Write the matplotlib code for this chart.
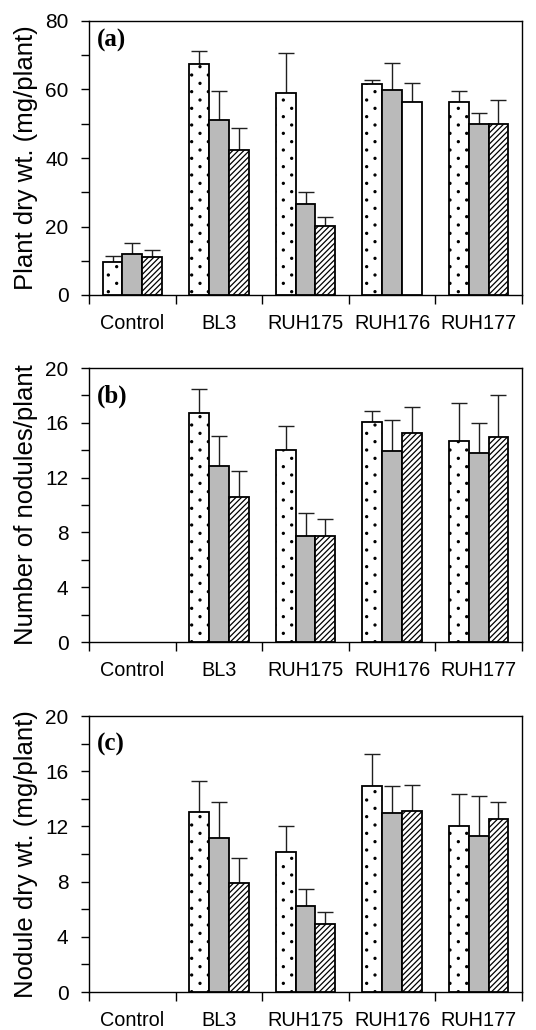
import numpy as np
import matplotlib
matplotlib.use("Agg")
import matplotlib.pyplot as plt
import matplotlib.hatch as mhatch
from matplotlib.path import Path

# ---------------- data ----------------
categories = ["Control", "BL3", "RUH175", "RUH176", "RUH177"]

# panel (a) plant dry wt. (mg/plant)
a_s1 = [9.7, 67.3, 59.0, 61.7, 56.4]
a_s1_err = [1.6, 3.9, 11.8, 1.2, 3.1]
a_s2 = [12.0, 51.1, 26.7, 59.8, 50.0]
a_s2_err = [3.2, 8.5, 3.4, 8.0, 3.0]
a_s3 = [11.2, 42.2, 20.1, 56.3, 49.8]
a_s3_err = [1.8, 6.7, 2.8, 5.6, 7.1]

# panel (b) number of nodules/plant
b_s1 = [np.nan, 16.74, 14.0, 16.03, 14.7]
b_s1_err = [np.nan, 1.73, 1.74, 0.83, 2.75]
b_s2 = [np.nan, 12.85, 7.74, 13.94, 13.77]
b_s2_err = [np.nan, 2.21, 1.68, 2.26, 2.22]
b_s3 = [np.nan, 10.56, 7.74, 15.23, 14.96]
b_s3_err = [np.nan, 1.92, 1.21, 1.95, 3.04]

# panel (c) nodule dry wt. (mg/plant)
c_s1 = [np.nan, 13.05, 10.11, 14.93, 12.04]
c_s1_err = [np.nan, 2.25, 1.95, 2.30, 2.31]
c_s2 = [np.nan, 11.19, 6.22, 12.98, 11.31]
c_s2_err = [np.nan, 2.56, 1.21, 1.98, 2.88]
c_s3 = [np.nan, 7.91, 4.95, 13.08, 12.57]
c_s3_err = [np.nan, 1.79, 0.82, 1.95, 1.18]

panel_letters = ["(a)", "(b)", "(c)"]
ylabels = ["Plant dry wt. (mg/plant)", "Number of nodules/plant",
           "Nodule dry wt. (mg/plant)"]
ymax = [80, 20, 20]
ymajor = [20, 4, 4]

# ---------------- custom sparse staggered dot hatch ----------------
class StaggeredDots(mhatch.HatchPatternBase):
    def __init__(self, hatch, density):
        self.ncols = hatch.count('.') * density
        circ = Path.unit_circle()
        self.sv = circ.vertices
        self.sc = circ.codes
        if self.ncols == 0:
            self.num_vertices = 0
            return
        nrows = 2 * self.ncols
        centers = []
        for j in range(nrows + 1):
            if j % 2 == 0:
                xs = np.linspace(0, 1, self.ncols + 1)
            else:
                xs = (np.arange(self.ncols) + 0.5) / self.ncols
            for x in xs:
                centers.append((x, j / nrows))
        self.centers = np.array(centers)
        self.num_vertices = len(self.centers) * len(self.sv)

    def set_vertices_and_codes(self, vertices, codes):
        r = 0.010
        parts = [self.sv * r + c for c in self.centers]
        vertices[:] = np.concatenate(parts)
        codes[:] = np.tile(self.sc, len(self.centers))

try:
    mhatch._hatch_types = [t for t in mhatch._hatch_types
                           if t is not mhatch.SmallFilledCircles] + [StaggeredDots]
except Exception:
    pass

plt.rcParams['hatch.linewidth'] = 0.9
plt.rcParams['font.family'] = ['Liberation Sans', 'DejaVu Sans']

fig = plt.figure(figsize=(5.36, 10.30), dpi=100)

panels = [
    ([a_s1, a_s2, a_s3], [a_s1_err, a_s2_err, a_s3_err]),
    ([b_s1, b_s2, b_s3], [b_s1_err, b_s2_err, b_s3_err]),
    ([c_s1, c_s2, c_s3], [c_s1_err, c_s2_err, c_s3_err]),
]

W, H = 536, 1030
ax_px = [(21, 295), (368, 642), (716, 992)]
left_px, right_px = 89, 522
label_top_px = [8, 17, 17]

styles = [
    dict(facecolor='white', hatch='.'),
    dict(facecolor='#bababa', hatch=None),
    dict(facecolor='white', hatch='//////'),
]
# the third bar of RUH176 in panel (a) is drawn blank in the original
blank_bars = {(0, 3, 2)}

bw = 0.228
x = np.arange(len(categories)) + 0.5

for p, ((series, errs), (top, bot)) in enumerate(zip(panels, ax_px)):
    ax = fig.add_axes([left_px / W, 1 - bot / H, (right_px - left_px) / W,
                       (bot - top) / H])
    for s, (vals, err) in enumerate(zip(series, errs)):
        xs = x + (s - 1) * bw
        vals = np.array(vals, dtype=float)
        err = np.array(err, dtype=float)
        st = styles[s]
        bars = ax.bar(xs, vals, width=bw, facecolor=st['facecolor'],
                      edgecolor='black', linewidth=1.3, hatch=st['hatch'],
                      zorder=3)
        for i, b in enumerate(bars):
            if (p, i, s) in blank_bars:
                b.set_hatch(None)
                b.set_facecolor('white')
        ax.errorbar(xs, vals, yerr=[np.zeros_like(err), err], fmt='none',
                    ecolor='#202020', elinewidth=1.0, capsize=5.5,
                    capthick=1.0, zorder=2)
    ax.set_xlim(0, len(categories))
    ax.set_ylim(0, ymax[p])
    ax.set_xticks(np.arange(len(categories) + 1))
    ax.set_xticklabels([])
    ax.set_xticks(x, minor=True)
    ax.set_xticklabels(categories, minor=True, fontsize=14.3)
    ax.tick_params(axis='x', which='major', direction='out', length=6.5,
                   width=1.0)
    ax.tick_params(axis='x', which='minor', length=0, pad=14)
    ax.set_yticks(np.arange(0, ymax[p] + 0.1, ymajor[p]))
    ax.set_yticks(np.arange(ymajor[p] / 2, ymax[p], ymajor[p]), minor=True)
    ax.tick_params(axis='y', which='both', direction='out', length=5.8,
                   width=1.0, labelsize=15, pad=9)
    for sp in ax.spines.values():
        sp.set_linewidth(1.0)
    ax.set_ylabel(ylabels[p], fontsize=18.5)
    ax.yaxis.set_label_coords(-0.118, 0.5)
    ax.text(0.018, 1 - label_top_px[p] / (bot - top), panel_letters[p],
            transform=ax.transAxes, ha='left', va='top', fontsize=18,
            fontweight='bold', family=['Liberation Serif', 'DejaVu Serif'])

fig.savefig('out.png', dpi=100)
